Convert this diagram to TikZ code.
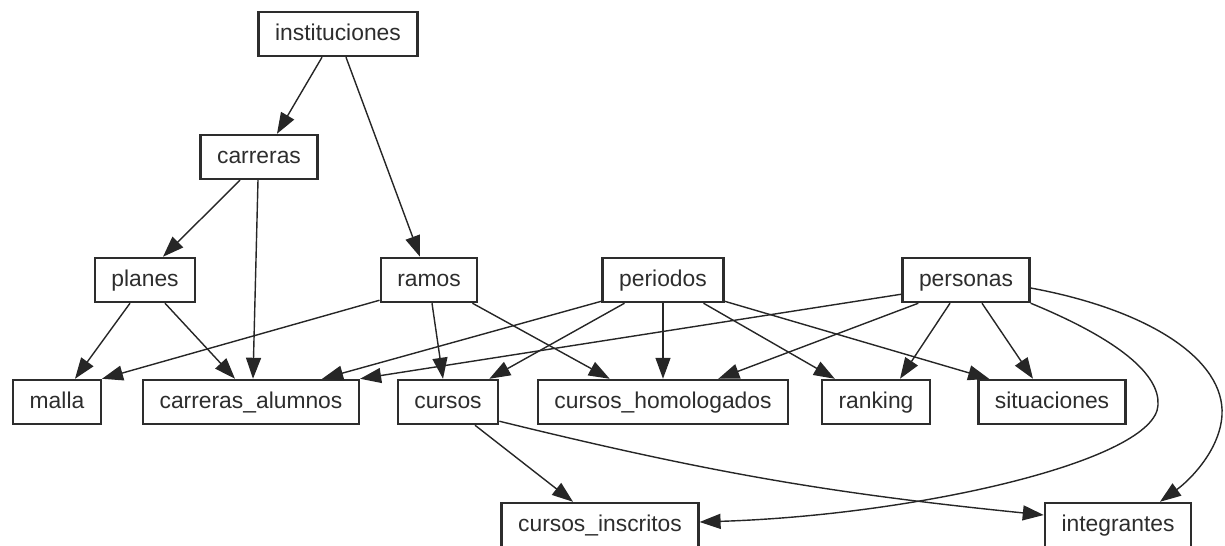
\documentclass[tikz,border=0pt]{standalone}
\usepackage{fontspec}
\setmainfont{Liberation Sans}
\usetikzlibrary{arrows.meta}

\definecolor{inkgray}{RGB}{45,45,45}

\begin{document}
\begin{tikzpicture}[x=0.02cm, y=-0.02cm,
  tabla/.style={draw=inkgray, line width=1.4pt, text=inkgray, minimum height=0.88cm,
    inner xsep=0.33cm, text height=0.33cm, text depth=0.09cm, font=\fontsize{13}{15}\selectfont},
  rel/.style={draw=black!85, line width=0.8pt, -{Triangle[length=0.42cm, width=0.3cm]}}]
  \useasboundingbox (0,0) rectangle (1225,545);
  \clip (0,0) rectangle (1225,545);
  \node[tabla] (instituciones) at (338,34) {instituciones};
  \node[tabla] (carreras) at (259,157) {carreras};
  \node[tabla] (planes) at (145,280) {planes};
  \node[tabla] (ramos) at (429,280) {ramos};
  \node[tabla] (periodos) at (663,280) {periodos};
  \node[tabla] (personas) at (966,280) {personas};
  \node[tabla] (malla) at (57,402) {malla};
  \node[tabla] (carrerasalumnos) at (251,402) {carreras\_alumnos};
  \node[tabla] (cursos) at (448,402) {cursos};
  \node[tabla] (homologados) at (663,402) {cursos\_homologados};
  \node[tabla] (ranking) at (876,402) {ranking};
  \node[tabla] (situaciones) at (1052,402) {situaciones};
  \node[tabla] (inscritos) at (600,525) {cursos\_inscritos};
  \node[tabla] (integrantes) at (1118,525) {integrantes};

  \draw[rel] ([xshift=-0.32cm]instituciones.south) -- ([xshift=0.36cm]carreras.north);
  \draw[rel] ([xshift=0.16cm]instituciones.south) -- ([xshift=-0.18cm]ramos.north);
  \draw[rel] ([xshift=-0.38cm]carreras.south) -- ([xshift=0.36cm]planes.north);
  \draw[rel] ([xshift=-0.02cm]carreras.south) -- ([xshift=0.04cm]carrerasalumnos.north);
  \draw[rel] ([xshift=-0.3cm]planes.south) -- ([xshift=0.36cm]malla.north);
  \draw[rel] ([xshift=0.4cm]planes.south) -- ([xshift=-0.32cm]carrerasalumnos.north);
  \draw[rel] ([yshift=0.06cm]ramos.south west) -- (malla.north east);
  \draw[rel] ([xshift=0.06cm]ramos.south) -- ([xshift=-0.1cm]cursos.north);
  \draw[rel] ([xshift=-0.12cm]ramos.south east) -- ([xshift=1.46cm]homologados.north west);
  \draw[rel] ([yshift=0.04cm]periodos.south west) -- ([xshift=-0.76cm]carrerasalumnos.north east);
  \draw[rel] ([xshift=0.46cm]periodos.south west) -- ([xshift=-0.2cm]cursos.north east);
  \draw[rel] (periodos.south) -- (homologados.north);
  \draw[rel] ([xshift=-0.42cm]periodos.south east) -- ([xshift=0.28cm]ranking.north west);
  \draw[rel] ([yshift=0.04cm]periodos.south east) -- ([xshift=0.24cm]situaciones.north west);
  \draw[rel] ([yshift=0.18cm]personas.south west) -- (carrerasalumnos.north east);
  \draw[rel] ([xshift=0.34cm]personas.south west) -- ([xshift=-1.42cm]homologados.north east);
  \draw[rel] ([xshift=-0.32cm]personas.south) -- ([xshift=0.48cm]ranking.north);
  \draw[rel] ([xshift=0.32cm]personas.south) -- ([xshift=-0.38cm]situaciones.north);
  \draw[rel] (personas.south east) .. controls (1120,340) and (1160,375) .. (1158,405)
    .. controls (1156,460) and (920,515) .. ([yshift=0.06cm]inscritos.east);
  \draw[rel] ([yshift=-0.16cm]personas.east) .. controls (1150,310) and (1225,360) .. (1222,415)
    .. controls (1220,450) and (1190,480) .. ([xshift=0.84cm]integrantes.north);
  \draw[rel] ([xshift=0.54cm]cursos.south) -- ([xshift=-0.54cm]inscritos.north);
  \draw[rel] ([yshift=0.08cm]cursos.south east) to[bend right=4] ([yshift=0.2cm]integrantes.west);
\end{tikzpicture}
\end{document}
